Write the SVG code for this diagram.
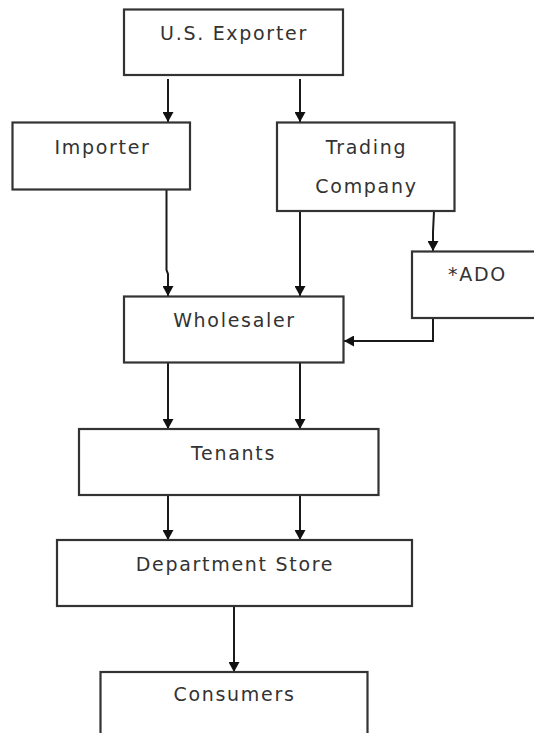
<svg xmlns="http://www.w3.org/2000/svg" width="534" height="733" viewBox="0 0 534 733">
<defs>
<style>
.box{fill:#fff;stroke:#333;stroke-width:2.2}
.lbl{font-family:"DejaVu Sans",Verdana,sans-serif;font-size:19px;letter-spacing:1.7px;fill:#333;text-anchor:middle}
.con{fill:none;stroke:#1a1a1a;stroke-width:2;marker-end:url(#ah)}
</style>
<marker id="ah" markerUnits="userSpaceOnUse" viewBox="0 0 10 11" refX="10" refY="5.5" markerWidth="11" markerHeight="11" orient="auto">
<path d="M0,0 L10,5.5 L0,11 z" fill="#111"/>
</marker>
</defs>
<rect width="534" height="733" fill="#fff"/>
<g id="connectors">
<path class="con" d="M168,79 V122"/>
<path class="con" d="M300,79 V122"/>
<path class="con" d="M166.5,190 V270 L168,274 V296"/>
<path class="con" d="M300,211 V296"/>
<path class="con" d="M434,211 L433,232 V251"/>
<path class="con" d="M433,318 V341 H344"/>
<path class="con" d="M168,363 V429"/>
<path class="con" d="M300,363 V429"/>
<path class="con" d="M168,495 V540"/>
<path class="con" d="M300,495 V540"/>
<path class="con" d="M234,606 V672"/>
</g>
<g id="us-exporter">
<rect class="box" x="124" y="9.5" width="219" height="65.5"/>
<text class="lbl" x="234" y="40">U.S. Exporter</text>
</g>
<g id="importer">
<rect class="box" x="12.5" y="122.5" width="177.5" height="67"/>
<text class="lbl" x="102.5" y="154">Importer</text>
</g>
<g id="trading-company">
<rect class="box" x="277" y="122.5" width="177.5" height="88.5"/>
<text class="lbl" x="366.5" y="154">Trading</text>
<text class="lbl" x="366.5" y="193">Company</text>
</g>
<g id="ado">
<rect class="box" x="412" y="251.5" width="132" height="66.5"/>
<text class="lbl" x="477.5" y="281">*ADO</text>
</g>
<g id="wholesaler">
<rect class="box" x="124" y="296.5" width="219.5" height="66"/>
<text class="lbl" x="234.5" y="327">Wholesaler</text>
</g>
<g id="tenants">
<rect class="box" x="79" y="429" width="299.5" height="66"/>
<text class="lbl" x="233.5" y="460">Tenants</text>
</g>
<g id="department-store">
<rect class="box" x="57" y="540" width="355" height="66"/>
<text class="lbl" x="235" y="571">Department Store</text>
</g>
<g id="consumers">
<rect class="box" x="100.5" y="672" width="267" height="90"/>
<text class="lbl" x="234.5" y="701">Consumers</text>
</g>
</svg>
